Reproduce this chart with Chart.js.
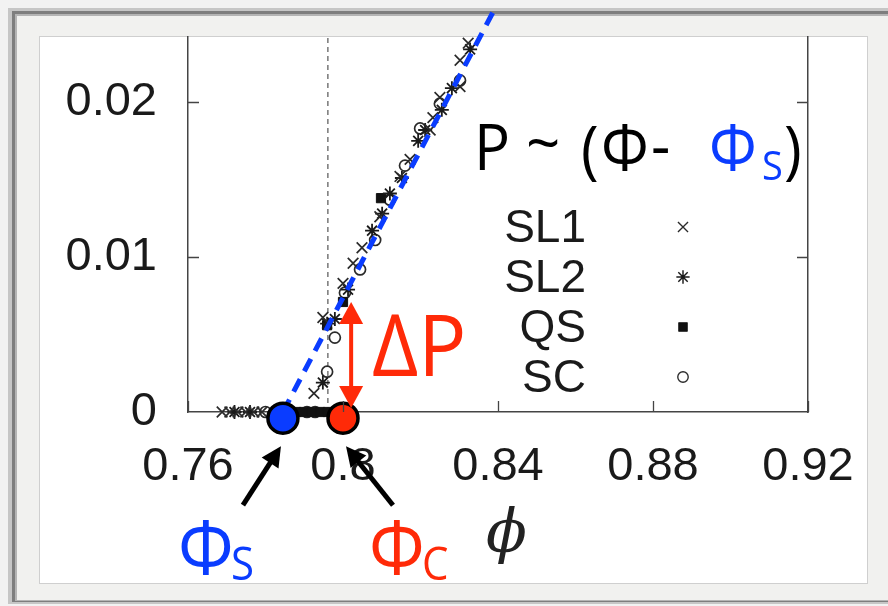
<!DOCTYPE html>
<html>
<head>
<meta charset="utf-8">
<script src="https://cdn.jsdelivr.net/npm/chart.js@4/dist/chart.umd.min.js"></script>
<style>
  html, body { margin: 0; padding: 0; background: #fff; }
  #wrap { width: 888px; height: 606px; position: relative; }
</style>
</head>
<body>
<div id="wrap"><canvas id="chart"></canvas></div>
<script>
const xTicks = [0.76, 0.8, 0.84, 0.88, 0.92];
const xTickLabels = ['0.76', '0.8', '0.84', '0.88', '0.92'];
const yTicks = [0, 0.01, 0.02];
const yTickLabels = ['0', '0.01', '0.02'];

// SL1 (x marks)
const sl1Phi = [0.7688, 0.7708, 0.7729, 0.7749, 0.7770, 0.7791, 0.7925, 0.7948, 0.8000, 0.8026, 0.8049, 0.8095, 0.8147, 0.8173, 0.8225, 0.8232, 0.8250, 0.8302, 0.8302, 0.8323];
const sl1P = [0, 0, 0, 0, 0, 0, 0.0012, 0.0061, 0.0083, 0.0096, 0.0106, 0.0126, 0.0152, 0.0163, 0.0182, 0.0190, 0.0203, 0.0210, 0.0227, 0.0238];
// SL2 (stars)
const sl2Phi = [0.7720, 0.7760, 0.7948, 0.7959, 0.7979, 0.8013, 0.8075, 0.8101, 0.8121, 0.8152, 0.8194, 0.8212, 0.8255, 0.8281, 0.8328];
const sl2P = [0, 0, 0.0019, 0.0057, 0.0060, 0.0079, 0.0117, 0.0128, 0.0141, 0.0151, 0.0175, 0.0182, 0.0195, 0.0209, 0.0234];
// QS (filled squares)
const qsPhi = [0.7879, 0.7899, 0.7920, 0.7941, 0.7961, 0.7959, 0.8000, 0.8098];
const qsP = [0, 0, 0, 0, 0, 0.0056, 0.0071, 0.0138];
// SC (open circles)
const scPhi = [0.7800, 0.7907, 0.7928, 0.7959, 0.7979, 0.8005, 0.8044, 0.8083, 0.8121, 0.8160, 0.8199, 0.8250, 0.8302];
const scP = [0, 0, 0, 0.0026, 0.0048, 0.0077, 0.0092, 0.0111, 0.0137, 0.0159, 0.0183, 0.0199, 0.0214];

const legendLabels = ['SL1', 'SL2', 'QS', 'SC'];

// linear fit P ~ (phi - phiS), drawn past the top of the plot
const fitPhi = [0.7845, 0.8387];
const fitP = [0, 0.0258];
const jamLinePhi = 0.7961;
const phiS = 0.7845;
const phiC = 0.80;
const markerP = -0.0004;
const deltaPhi = 0.8021;
const deltaP = [0.00026, 0.0071];

const blue = '#0a3cff';
const red = '#ff2a08';

function pts(xs, ys) {
  return xs.map((x, i) => ({ x: x, y: ys[i] }));
}

const markerStyles = [
  { pointStyle: 'crossRot', radius: 7.5, borderWidth: 1.7, borderColor: '#2a2a2a', backgroundColor: '#2a2a2a' },
  { pointStyle: 'star', radius: 7, borderWidth: 1.8, borderColor: '#1a1a1a', backgroundColor: '#1a1a1a' },
  { pointStyle: 'rect', radius: 6.5, borderWidth: 1, borderColor: '#111', backgroundColor: '#111' },
  { pointStyle: 'circle', radius: 5.5, borderWidth: 1.7, borderColor: '#2a2a2a', backgroundColor: 'rgba(255,255,255,0)' }
];

function scatterSet(label, data, st) {
  return {
    type: 'scatter', label: label, data: data, order: 5,
    pointStyle: st.pointStyle, pointRadius: st.radius, pointBorderWidth: st.borderWidth,
    pointBorderColor: st.borderColor, pointBackgroundColor: st.backgroundColor,
    clip: false
  };
}

function arrow(ctx, x1, y1, x2, y2, color, width, headLen, headHalf, both) {
  ctx.save();
  ctx.strokeStyle = color;
  ctx.fillStyle = color;
  ctx.lineWidth = width;
  const ang = Math.atan2(y2 - y1, x2 - x1);
  const ux = Math.cos(ang), uy = Math.sin(ang);
  ctx.beginPath();
  ctx.moveTo(x1 + (both ? ux * headLen * 0.8 : 0), y1 + (both ? uy * headLen * 0.8 : 0));
  ctx.lineTo(x2 - ux * headLen * 0.8, y2 - uy * headLen * 0.8);
  ctx.stroke();
  const head = (tx, ty, dx, dy) => {
    ctx.beginPath();
    ctx.moveTo(tx, ty);
    ctx.lineTo(tx - dx * headLen - dy * headHalf, ty - dy * headLen + dx * headHalf);
    ctx.lineTo(tx - dx * headLen + dy * headHalf, ty - dy * headLen - dx * headHalf);
    ctx.closePath();
    ctx.fill();
  };
  head(x2, y2, ux, uy);
  if (both) head(x1, y1, -ux, -uy);
  ctx.restore();
}

// text with a slight vertical stretch, closer to the tall Gill-style letters
function tallText(ctx, text, x, y, size, color) {
  ctx.save();
  ctx.font = size + 'px "Open Sans", sans-serif';
  ctx.fillStyle = color;
  ctx.translate(x, y);
  ctx.scale(1, 1.08);
  ctx.fillText(text, 0, 0);
  ctx.restore();
}

// pieces of "P ~ (Φ- Φs)": text, left x, baseline y, size, colour
const formula = [
  ['P', 474, 170, 60, '#000'],
  ['~', 526, 166, 60, '#000'],
  ['(', 581, 172, 60, '#000'],
  ['\u03A6', 601, 170, 60, '#000'],
  ['-', 651, 168, 60, '#000'],
  ['\u03A6', 709, 170, 60, blue],
  ['S', 762, 180, 38, blue],
  [')', 784, 172, 60, '#000']
];

const decorations = {
  id: 'decorations',
  beforeDraw(chart) {
    const ctx = chart.ctx;
    ctx.save();
    ctx.fillStyle = '#f2f2f2';
    ctx.fillRect(0, 0, 888, 606);
    ctx.fillStyle = '#c6c6c6';
    ctx.fillRect(8, 8, 880, 596);
    ctx.fillStyle = '#7e7e7e';
    ctx.fillRect(12, 11, 876, 591);
    ctx.fillStyle = '#b4b4b4';
    ctx.fillRect(15, 14, 873, 587);
    ctx.fillStyle = '#f1f1ef';
    ctx.fillRect(17, 16, 871, 584);
    ctx.fillStyle = '#ffffff';
    ctx.fillRect(40, 37, 827, 546);
    ctx.strokeStyle = '#cfcfcf';
    ctx.lineWidth = 1;
    ctx.strokeRect(39.5, 36.5, 828, 547);
    ctx.restore();
  },
  afterDatasetsDraw(chart) {
    const ctx = chart.ctx;
    const xs = chart.scales.x, ys = chart.scales.y;
    const area = chart.chartArea;
    ctx.save();
    // inward tick marks on left, right and bottom axes
    ctx.strokeStyle = '#444';
    ctx.lineWidth = 1.3;
    ctx.beginPath();
    yTicks.forEach(v => {
      if (v === 0) return;
      const py = Math.round(ys.getPixelForValue(v)) + 0.5;
      ctx.moveTo(area.left, py); ctx.lineTo(area.left + 11, py);
      ctx.moveTo(area.right, py); ctx.lineTo(area.right - 11, py);
    });
    xTicks.forEach(v => {
      const px = Math.round(xs.getPixelForValue(v)) + 0.5;
      ctx.moveTo(px, area.bottom); ctx.lineTo(px, area.bottom - 11);
    });
    ctx.stroke();

    // legend: labels right-aligned, marker to the right
    ctx.font = '46px "Liberation Sans", Arial, sans-serif';
    ctx.textAlign = 'right';
    ctx.textBaseline = 'middle';
    legendLabels.forEach((lab, i) => {
      const ly = 227 + i * 50;
      ctx.fillStyle = '#1a1a1a';
      ctx.fillText(lab, 586, ly + 2);
      const st = markerStyles[i];
      ctx.strokeStyle = st.borderColor;
      ctx.fillStyle = st.backgroundColor;
      ctx.lineWidth = st.borderWidth * 0.8;
      Chart.helpers.drawPoint(ctx, { pointStyle: st.pointStyle, radius: st.radius * 0.95, borderWidth: st.borderWidth * 0.8, rotation: 0 }, 683, ly);
    });

    // red delta-P double arrow
    const ax = xs.getPixelForValue(deltaPhi);
    arrow(ctx, ax, ys.getPixelForValue(deltaP[1]), ax, ys.getPixelForValue(deltaP[0]), red, 4, 22, 12, true);

    ctx.textAlign = 'left';
    ctx.textBaseline = 'alphabetic';
    tallText(ctx, '\u0394P', 372, 376, 80, red);

    formula.forEach(f => tallText(ctx, f[0], f[1], f[2], f[3], f[4]));

    // phi_S and phi_C labels below the axis
    const sx = xs.getPixelForValue(phiS), cx = xs.getPixelForValue(phiC);
    const my = ys.getPixelForValue(markerP);
    arrow(ctx, sx - 40, my + 87, sx - 2, my + 28, '#000', 5, 20, 10, false);
    arrow(ctx, cx + 50, my + 87, cx + 3, my + 28, '#000', 5, 20, 10, false);

    tallText(ctx, '\u03A6', 178, 574, 70, blue);
    tallText(ctx, 'S', 231, 580, 42, blue);
    tallText(ctx, '\u03A6', 369, 574, 70, red);
    tallText(ctx, 'C', 422, 580, 42, red);

    ctx.font = 'italic 60px "DejaVu Serif", serif';
    ctx.fillStyle = '#222';
    ctx.fillText('\u03D5', 486, 552);
    ctx.restore();
  }
};

new Chart(document.getElementById('chart'), {
  data: {
    datasets: [
      {
        type: 'line', label: 'fit', data: pts(fitPhi, fitP), order: 2,
        borderColor: blue, borderWidth: 5, borderDash: [14, 9],
        pointRadius: 0, clip: false
      },
      {
        type: 'line', label: 'phiJ', data: [{ x: jamLinePhi, y: 0 }, { x: jamLinePhi, y: 0.0242 }], order: 6,
        borderColor: '#555', borderWidth: 1.2, borderDash: [5, 4], pointRadius: 0
      },
      scatterSet(legendLabels[0], pts(sl1Phi, sl1P), markerStyles[0]),
      scatterSet(legendLabels[1], pts(sl2Phi, sl2P), markerStyles[1]),
      scatterSet(legendLabels[2], pts(qsPhi, qsP), markerStyles[2]),
      scatterSet(legendLabels[3], pts(scPhi, scP), markerStyles[3]),
      {
        type: 'scatter', label: 'phiS', data: [{ x: phiS, y: markerP }], order: 1,
        pointRadius: 15, pointBorderWidth: 3.5, pointBorderColor: '#000', pointBackgroundColor: blue, clip: false
      },
      {
        type: 'scatter', label: 'phiC', data: [{ x: phiC, y: markerP }], order: 1,
        pointRadius: 15, pointBorderWidth: 3.5, pointBorderColor: '#000', pointBackgroundColor: red, clip: false
      }
    ]
  },
  options: {
    animation: false,
    responsive: true,
    maintainAspectRatio: false,
    layout: { padding: { left: 40, top: 37, right: 80, bottom: 0 } },
    plugins: { legend: { display: false }, tooltip: { enabled: false } },
    scales: {
      x: {
        type: 'linear', min: 0.76, max: 0.92,
        afterBuildTicks: s => { s.ticks = xTicks.map(v => ({ value: v })); },
        afterFit: s => { s.height = 194; s.paddingLeft = 0; s.paddingRight = 0; },
        grid: { drawOnChartArea: false, drawTicks: false },
        border: { display: true, color: '#444', width: 1.5 },
        ticks: {
          padding: 27, color: '#1a1a1a',
          font: { family: '"Liberation Sans", Arial, sans-serif', size: 47 },
          callback: (v, i) => xTickLabels[i]
        }
      },
      y: {
        type: 'linear', min: 0, max: 0.0242,
        afterBuildTicks: s => { s.ticks = yTicks.map(v => ({ value: v })); },
        afterFit: s => { s.width = 148; s.paddingTop = 0; s.paddingBottom = 0; },
        grid: { drawOnChartArea: false, drawTicks: false },
        border: { display: true, color: '#444', width: 1.5 },
        ticks: {
          padding: 31, color: '#1a1a1a',
          font: { family: '"Liberation Sans", Arial, sans-serif', size: 47 },
          callback: (v, i) => yTickLabels[i]
        }
      },
      y2: {
        type: 'linear', position: 'right', min: 0, max: 0.0242,
        afterFit: s => { s.width = 0; s.paddingTop = 0; s.paddingBottom = 0; },
        grid: { drawOnChartArea: false, drawTicks: false },
        border: { display: true, color: '#444', width: 1.5 },
        ticks: { display: false }
      }
    }
  },
  plugins: [decorations]
});
</script>
</body>
</html>
